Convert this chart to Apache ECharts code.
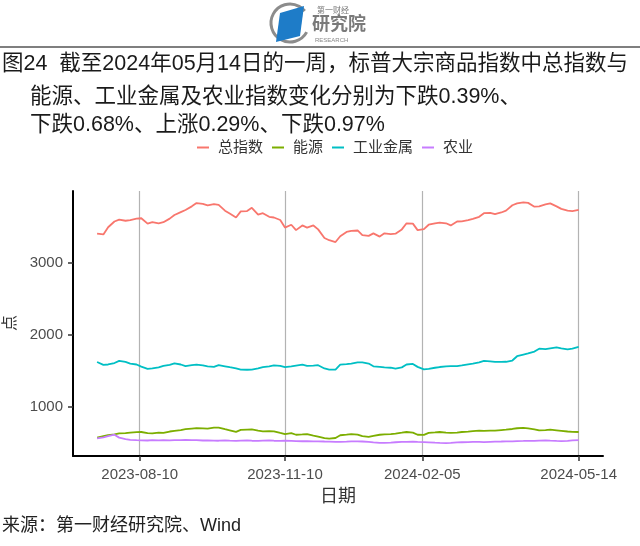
<!DOCTYPE html>
<html><head><meta charset="utf-8">
<script src="https://cdn.jsdelivr.net/npm/echarts@6/dist/echarts.min.js"></script>
<style>html,body{margin:0;padding:0;background:#fff}#c{width:640px;height:546px}</style>
</head><body><div id="c"></div>
<script>
// ---- data ----
const dates = ['2023-07-14','2023-07-18','2023-07-21','2023-07-25','2023-07-28','2023-08-01','2023-08-04','2023-08-08','2023-08-11','2023-08-15',
'2023-08-18','2023-08-22','2023-08-25','2023-08-29','2023-09-01','2023-09-05','2023-09-08','2023-09-12','2023-09-15','2023-09-19',
'2023-09-22','2023-09-26','2023-09-29','2023-10-03','2023-10-06','2023-10-10','2023-10-13','2023-10-17','2023-10-20','2023-10-24',
'2023-10-27','2023-10-31','2023-11-03','2023-11-07','2023-11-10','2023-11-14','2023-11-17','2023-11-21','2023-11-24','2023-11-28',
'2023-12-01','2023-12-05','2023-12-08','2023-12-12','2023-12-15','2023-12-19','2023-12-22','2023-12-26','2023-12-29','2024-01-02',
'2024-01-05','2024-01-09','2024-01-12','2024-01-16','2024-01-19','2024-01-23','2024-01-26','2024-01-30','2024-02-02','2024-02-06',
'2024-02-09','2024-02-13','2024-02-16','2024-02-20','2024-02-23','2024-02-27','2024-03-01','2024-03-05','2024-03-08','2024-03-12',
'2024-03-15','2024-03-19','2024-03-22','2024-03-26','2024-03-29','2024-04-02','2024-04-05','2024-04-09','2024-04-12','2024-04-16',
'2024-04-19','2024-04-23','2024-04-26','2024-04-30','2024-05-03','2024-05-07','2024-05-10','2024-05-14'];
const totalIdx = [3400,3390,3490,3570,3595,3580,3590,3610,3615,3540,
3560,3545,3560,3610,3660,3700,3730,3780,3825,3815,
3795,3810,3800,3720,3680,3625,3710,3715,3760,3665,
3685,3635,3625,3590,3485,3525,3450,3515,3485,3515,
3460,3340,3310,3285,3365,3425,3440,3445,3380,3370,
3405,3360,3405,3395,3400,3460,3545,3540,3450,3465,
3525,3545,3555,3545,3515,3570,3572,3588,3605,3635,
3685,3690,3672,3695,3720,3795,3820,3835,3828,3775,
3780,3808,3822,3780,3745,3720,3715,3730];
const energy = [570,590,605,615,628,632,640,645,648,632,
628,640,635,655,665,675,688,696,702,698,
694,708,710,688,672,650,678,682,684,668,
658,660,656,635,620,632,610,615,620,598,
585,562,556,565,603,612,620,612,590,580,
595,610,615,618,625,638,648,640,610,608,
635,642,648,640,636,640,648,652,660,667,
665,668,667,675,680,690,700,705,698,685,
670,675,680,672,665,655,650,648];
const metals = [1620,1580,1585,1605,1635,1620,1598,1585,1555,1525,
1530,1545,1565,1580,1600,1585,1562,1575,1583,1572,
1560,1552,1575,1560,1547,1530,1515,1512,1515,1530,
1547,1560,1572,1565,1547,1560,1570,1582,1566,1568,
1575,1530,1514,1515,1583,1590,1598,1615,1615,1598,
1560,1552,1545,1540,1528,1545,1585,1593,1552,1518,
1525,1540,1550,1560,1562,1562,1572,1588,1598,1615,
1635,1628,1620,1621,1623,1640,1700,1722,1738,1765,
1805,1798,1810,1822,1810,1795,1805,1828];
const agri = [560,575,590,610,570,550,540,535,533,530,
535,532,534,533,536,535,538,536,534,530,
532,528,527,530,528,526,529,530,527,526,
528,530,527,526,528,525,522,520,521,518,
519,516,514,511,510,514,518,519,516,512,
505,498,497,502,506,510,512,513,510,508,
505,500,497,495,498,503,506,508,510,511,
508,512,514,516,518,519,522,524,526,524,
528,530,527,524,522,526,532,536];
const seriesNames = ['总指数','能源','工业金属','农业'];
const xTickLabels = ['2023-08-10','2023-11-10','2024-02-05','2024-05-14'];
const yTickLabels = [1000,2000,3000];

// ---- chart ----
const colors = ['#F8766D','#7CAE00','#00BFC4','#C77CFF'];
const FF = '"Liberation Sans","Noto Sans CJK SC",sans-serif';
const chart = echarts.init(document.getElementById('c'), null, {renderer:'canvas'});
const P = s => echarts.time.parse(s).getTime();
const xTicks = xTickLabels.map(P);
const allVals = [totalIdx, energy, metals, agri];

const series = seriesNames.map((n,i)=>({
  name:n, type:'line', showSymbol:false, symbol:'none',
  data: dates.map((d,j)=>[P(d), allVals[i][j]]),
  lineStyle:{color:colors[i], width:1.8}, itemStyle:{color:colors[i]},
  z: 3
}));

const titleLines = [
  {t:'图24  截至2024年05月14日的一周，标普大宗商品指数中总指数与', x:2, y:64},
  {t:'能源、工业金属及农业指数变化分别为下跌0.39%、', x:30, y:97},
  {t:'下跌0.68%、上涨0.29%、下跌0.97%', x:30, y:125}
];
const graphic = titleLines.map(l=>({type:'text', x:l.x, y:l.y, style:{text:l.t, fontSize:21.5, fontFamily:FF, fill:'#1a1a1a', verticalAlign:'middle'}}));
graphic.push({type:'line', shape:{x1:0,y1:47,x2:640,y2:47}, style:{stroke:'#555', lineWidth:1.5}});
// logo
graphic.push({type:'arc', shape:{cx:290, cy:23, r:19, startAngle:0.5, endAngle:5.6}, style:{stroke:'#8c8c8c', lineWidth:3, fill:null}});
graphic.push({type:'polygon', shape:{points:[[280,13],[304,6],[300,36],[276,42]]}, style:{fill:'#1e7cc8'}});
graphic.push({type:'text', x:317, y:11, style:{text:'第一财经', fontSize:8, fontFamily:FF, fill:'#777', verticalAlign:'middle'}});
graphic.push({type:'text', x:312, y:25, style:{text:'研究院', fontSize:18, fontWeight:'bold', fontFamily:FF, fill:'#7a7a7a', verticalAlign:'middle'}});
graphic.push({type:'text', x:315, y:40, style:{text:'RESEARCH', fontSize:6, fontFamily:FF, fill:'#888', verticalAlign:'middle'}});
graphic.push({type:'text', x:2, y:526, style:{text:'来源：第一财经研究院、Wind', fontSize:18, fontFamily:FF, fill:'#222', verticalAlign:'middle'}});
// y-axis title
graphic.push({type:'text', x:11, y:323, rotation:Math.PI/2, style:{text:'点', fontSize:16, fontFamily:FF, fill:'#333', align:'center', verticalAlign:'middle'}});

chart.setOption({
  animation:false,
  backgroundColor:'#fff',
  color:colors,
  grid:{left:73, right:37, top:191, bottom:90, containLabel:false, outerBoundsMode:'none'},
  legend:{left:192, top:135, icon:'rect', itemWidth:12, itemHeight:2, itemGap:9,
    textStyle:{fontSize:15, fontFamily:FF, color:'#333', padding:[0,0,0,4]},
    data:seriesNames},
  xAxis:{type:'value', min:P('2023-06-28 18:00'), max:P('2024-05-29 10:00'),
    name:'日期', nameLocation:'middle', nameGap:32, nameTextStyle:{fontSize:18, fontFamily:FF, color:'#333'},
    axisLine:{show:true, onZero:false, lineStyle:{color:'#000', width:2}},
    axisTick:{show:true, length:5, customValues:xTicks, lineStyle:{color:'#333', width:1.5}},
    axisLabel:{customValues:xTicks, margin:11, fontSize:15, fontFamily:FF, color:'#4d4d4d',
      formatter:v=>echarts.time.format(v,'{yyyy}-{MM}-{dd}',false)},
    splitLine:{show:true, lineStyle:{color:'#b3b3b3', width:1.2}}},
  yAxis:{type:'value', min:315, max:3993,
    axisLine:{show:true, onZero:false, lineStyle:{color:'#000', width:2}},
    axisTick:{show:true, length:5, customValues:yTickLabels, lineStyle:{color:'#333', width:1.5}},
    axisLabel:{customValues:yTickLabels, margin:10, fontSize:15, fontFamily:FF, color:'#4d4d4d', formatter:v=>String(v)},
    splitLine:{show:false}},
  graphic: graphic,
  series: series
});
</script></body></html>
